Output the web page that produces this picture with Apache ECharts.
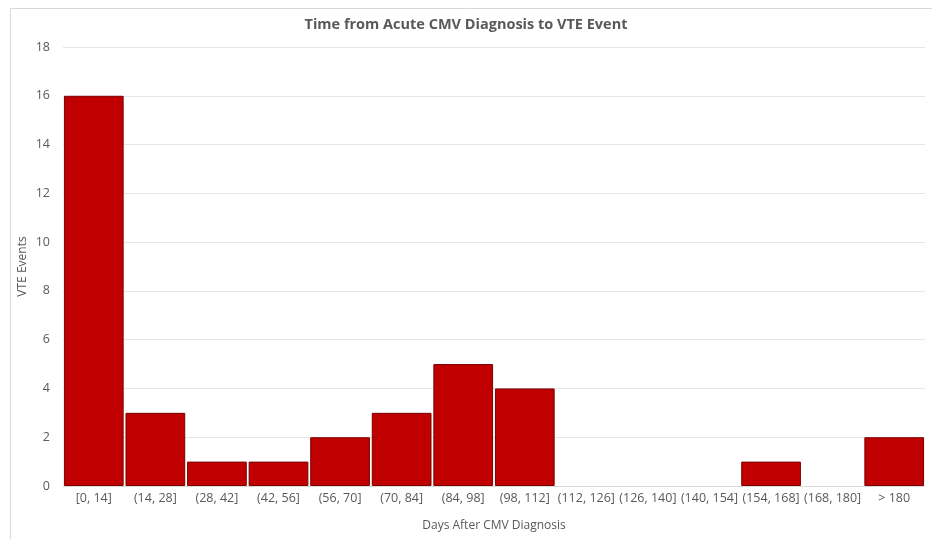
<!DOCTYPE html>
<html><head><meta charset="utf-8">
<script src="https://cdn.jsdelivr.net/npm/echarts@6/dist/echarts.min.js"></script>
<style>html,body{margin:0;padding:0;background:#fff}#c{width:932px;height:539px}</style>
</head><body><div id="c"></div>
<script>
const categories = ['[0, 14]','(14, 28]','(28, 42]','(42, 56]','(56, 70]','(70, 84]','(84, 98]','(98, 112]','(112, 126]','(126, 140]','(140, 154]','(154, 168]','(168, 180]','> 180'];
const vteEvents = [16, 3, 1, 1, 2, 3, 5, 4, 0, 0, 0, 1, 0, 2];
const chart = echarts.init(document.getElementById('c'));
const font = '"Open Sans", "Liberation Sans", sans-serif';
chart.setOption({
  animation: false,
  backgroundColor: '#ffffff',
  graphic: [{type:'rect', left: 8, top: 6, shape:{width: 940, height: 560}, style:{fill:'none', stroke:'#d9d9d9', lineWidth:1}, silent:true}],
  title: {text: 'Time from Acute CMV Diagnosis to VTE Event', left: 'center', top: 12,
    textStyle:{fontFamily: font, fontSize: 14.5, fontWeight: 'bold', color:'#595959'}},
  grid: {left: 63, right: 7, top: 47, bottom: 53, containLabel: false, outerBoundsMode: 'none'},
  xAxis: {type:'category', data: categories, name: 'Days After CMV Diagnosis', nameLocation:'middle', nameGap: 34,
    nameMoveOverlap: false,
    nameTextStyle:{fontFamily: font, fontSize: 12, color:'#595959'},
    axisLine:{lineStyle:{color:'#d9d9d9'}}, axisTick:{show:false},
    axisLabel:{fontFamily: font, fontSize: 12.5, color:'#595959', interval:0, margin: 6}},
  yAxis: {type:'value', min:0, max:18, interval:2, name:'VTE Events', nameLocation:'middle', nameGap: 34,
    nameMoveOverlap: false,
    nameTextStyle:{fontFamily: font, fontSize: 12, color:'#595959'},
    axisLine:{show:false}, axisTick:{show:false},
    axisLabel:{fontFamily: font, fontSize: 12.5, color:'#595959', margin: 13},
    splitLine:{lineStyle:{color:'#e6e6e6'}}},
  series: [{type:'bar', barCategoryGap:'3%',
    data: vteEvents.map(v => ({value: v, itemStyle: v === 0 ? {borderWidth: 0, opacity: 0} : {}})),
    itemStyle:{color:'#c00000', borderColor:'#7a0000', borderWidth:1}}]
});
</script></body></html>
